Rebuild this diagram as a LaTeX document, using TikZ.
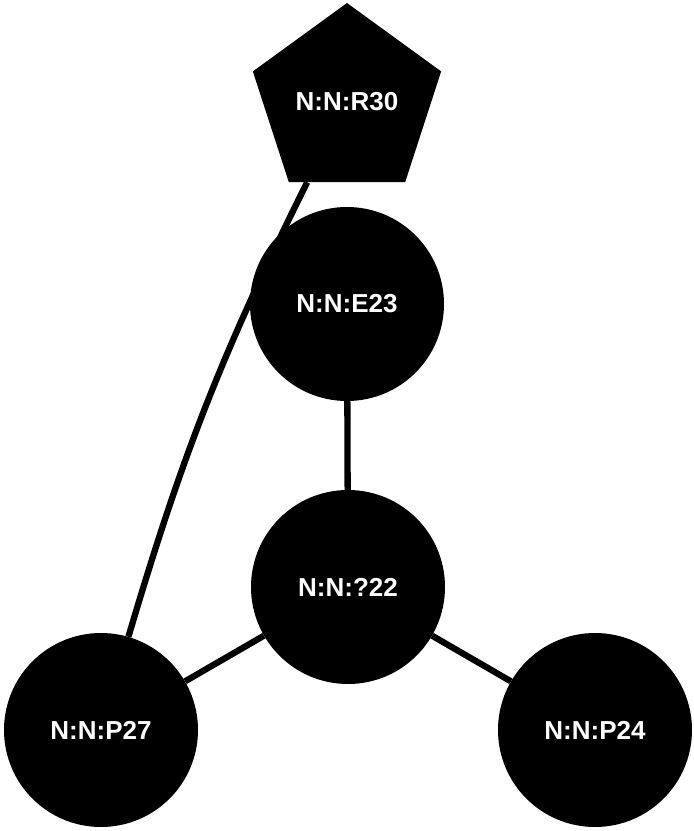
\documentclass[tikz,border=0pt]{standalone}
\usepackage{fontspec}
\setmainfont{Liberation Sans}
\usetikzlibrary{shapes, backgrounds}

\begin{document}
\begin{tikzpicture}[x=1pt, y=-1pt,
        vertex/.style={circle, fill=black, text=white, inner sep=0pt, minimum size=194pt,
            font=\fontsize{26}{30}\selectfont\bfseries},
        head/.style={vertex, regular polygon, regular polygon sides=5, minimum size=198pt},
        link/.style={line width=6.3pt}]
            \useasboundingbox (0, 0) rectangle (694, 831);

            \node[head] (r30) at (347, 102) {N:N:R30};
            \node[vertex] (e23) at (347, 304) {N:N:E23};
            \node[vertex] (q22) at (348, 587) {N:N:?22};
            \node[vertex] (p27) at (101, 730) {N:N:P27};
            \node[vertex] (p24) at (595, 730) {N:N:P24};

            \begin{scope}[on background layer]
                \draw[link] (e23) -- (q22);
                \draw[link] (q22) -- (p27);
                \draw[link] (q22) -- (p24);
                \draw[link] (r30) to[bend right=5] (p27);
            \end{scope}
        \end{tikzpicture}
\end{document}
